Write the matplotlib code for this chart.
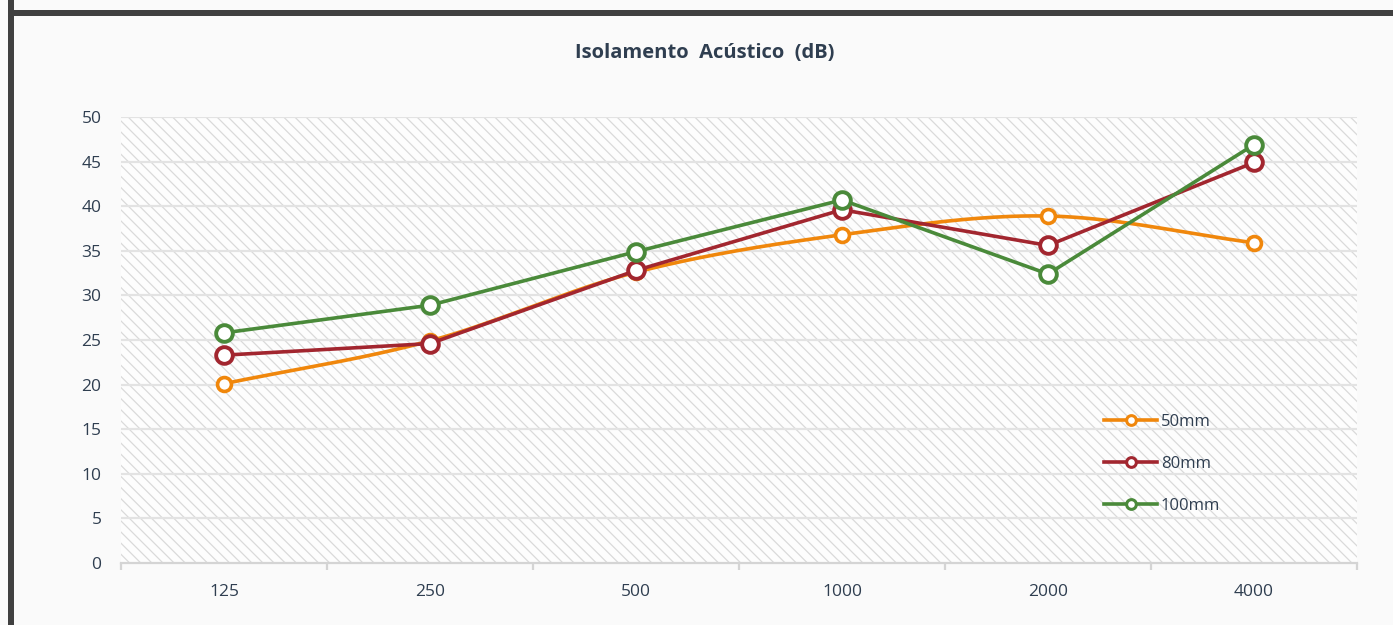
import numpy as np
import matplotlib
matplotlib.use("Agg")
import matplotlib.pyplot as plt
from matplotlib.patches import Rectangle
from matplotlib.lines import Line2D

categories = ["125", "250", "500", "1000", "2000", "4000"]
s50 = [20.1, 24.9, 32.6, 36.8, 38.9, 35.9]
s80 = [23.3, 24.6, 32.8, 39.6, 35.6, 44.9]
s100 = [25.8, 28.9, 34.9, 40.7, 32.4, 46.9]
series_names = ["50mm", "80mm", "100mm"]
yticks = [0, 5, 10, 15, 20, 25, 30, 35, 40, 45, 50]

c_orange = "#f0870c"
c_red = "#a2262f"
c_green = "#4a8a3a"
txt = "#2f3e50"

plt.rcParams['font.family'] = ['Open Sans', 'DejaVu Sans']
plt.rcParams['hatch.linewidth'] = 0.9
plt.rcParams['hatch.color'] = '#dadada'

W, H = 1393, 625
fig = plt.figure(figsize=(W / 100, H / 100), dpi=100, facecolor="#fafafa")

# outer frame (left + top edges visible)
fig.patches.append(Rectangle((8 / W, -0.1), 6 / W, 1.2, transform=fig.transFigure,
                             facecolor="#404040", edgecolor="none", zorder=0))
fig.patches.append(Rectangle((8 / W, 1 - 16 / H), 1.2, 6 / H, transform=fig.transFigure,
                             facecolor="#404040", edgecolor="none", zorder=0))

ax = fig.add_axes([121 / W, 1 - 563 / H, (1357 - 121) / W, (563 - 117) / H])
ax.set_facecolor("#fdfdfd")
x = np.arange(len(categories))
ax.set_xlim(-0.5, len(categories) - 0.5)
ax.set_ylim(0, 50)

# hatch background
ax.add_patch(Rectangle((0, 0), 1, 1, transform=ax.transAxes, facecolor="none",
                       edgecolor="#dadada", hatch="\\\\\\", linewidth=0, zorder=0))

for v in yticks[1:]:
    ax.axhline(v, color="#e3e3e3", lw=1.6, zorder=1)

for s in ["top", "right", "left"]:
    ax.spines[s].set_visible(False)
ax.spines["bottom"].set_color("#d4d4d4")
ax.spines["bottom"].set_linewidth(1.6)

ax.set_yticks(yticks)
ax.set_yticklabels([str(v) for v in yticks])
ax.set_xticks(x)
ax.set_xticklabels(categories)
ax.set_xticks(np.arange(-0.5, len(categories)), minor=True)
ax.tick_params(axis="x", which="major", length=0, pad=15, labelsize=12.5, labelcolor=txt)
ax.tick_params(axis="x", which="minor", length=5, width=1.6, color="#d4d4d4", direction="out")
ax.tick_params(axis="y", length=0, pad=14, labelsize=12.5, labelcolor=txt)


def smooth(xs, ys, n=40):
    xs = np.asarray(xs, float)
    ys = np.asarray(ys, float)
    px = np.concatenate([[2 * xs[0] - xs[1]], xs, [2 * xs[-1] - xs[-2]]])
    py = np.concatenate([[2 * ys[0] - ys[1]], ys, [2 * ys[-1] - ys[-2]]])
    ox, oy = [], []
    t = np.linspace(0, 1, n)
    for i in range(1, len(px) - 2):
        p0x, p1x, p2x, p3x = px[i - 1:i + 3]
        p0y, p1y, p2y, p3y = py[i - 1:i + 3]
        k = 1 / 6
        b1x, b1y = p1x + (p2x - p0x) * k, p1y + (p2y - p0y) * k
        b2x, b2y = p2x - (p3x - p1x) * k, p2y - (p3y - p1y) * k
        bx = (1 - t) ** 3 * p1x + 3 * (1 - t) ** 2 * t * b1x + 3 * (1 - t) * t ** 2 * b2x + t ** 3 * p2x
        by = (1 - t) ** 3 * p1y + 3 * (1 - t) ** 2 * t * b1y + 3 * (1 - t) * t ** 2 * b2y + t ** 3 * p2y
        ox.extend(bx)
        oy.extend(by)
    return np.array(ox), np.array(oy)


sx, sy = smooth(x, s50)
ax.plot(sx, sy, color=c_orange, lw=2.6, zorder=3, solid_capstyle="round")
ax.plot(x, s50, ls="none", marker="o", ms=10, mew=2.6, mfc="white", mec=c_orange, zorder=4)
ax.plot(x, s80, color=c_red, lw=2.6, marker="o", ms=12, mew=2.8, mfc="white", mec=c_red, zorder=5)
ax.plot(x, s100, color=c_green, lw=2.6, marker="o", ms=12, mew=2.8, mfc="white", mec=c_green, zorder=6)

handles = [
    Line2D([], [], color=c_orange, lw=2.6, marker="o", ms=7, mew=2.2, mfc="white", mec=c_orange),
    Line2D([], [], color=c_red, lw=2.6, marker="o", ms=7, mew=2.2, mfc="white", mec=c_red),
    Line2D([], [], color=c_green, lw=2.6, marker="o", ms=7, mew=2.2, mfc="white", mec=c_green),
]
leg = fig.legend(handles, series_names, loc="upper left", bbox_to_anchor=(1104 / W, 1 - 414 / H),
                 frameon=False, fontsize=12, handlelength=3.2, handletextpad=0.2,
                 labelspacing=1.55, borderpad=0, borderaxespad=0)
for t_ in leg.get_texts():
    t_.set_color(txt)

fig.text(705 / W, 1 - 53 / H, "Isolamento  Acústico  (dB)", ha="center", va="center",
         fontsize=14.5, fontweight="bold", color=txt)

fig.savefig("out.png", dpi=100, facecolor=fig.get_facecolor())
